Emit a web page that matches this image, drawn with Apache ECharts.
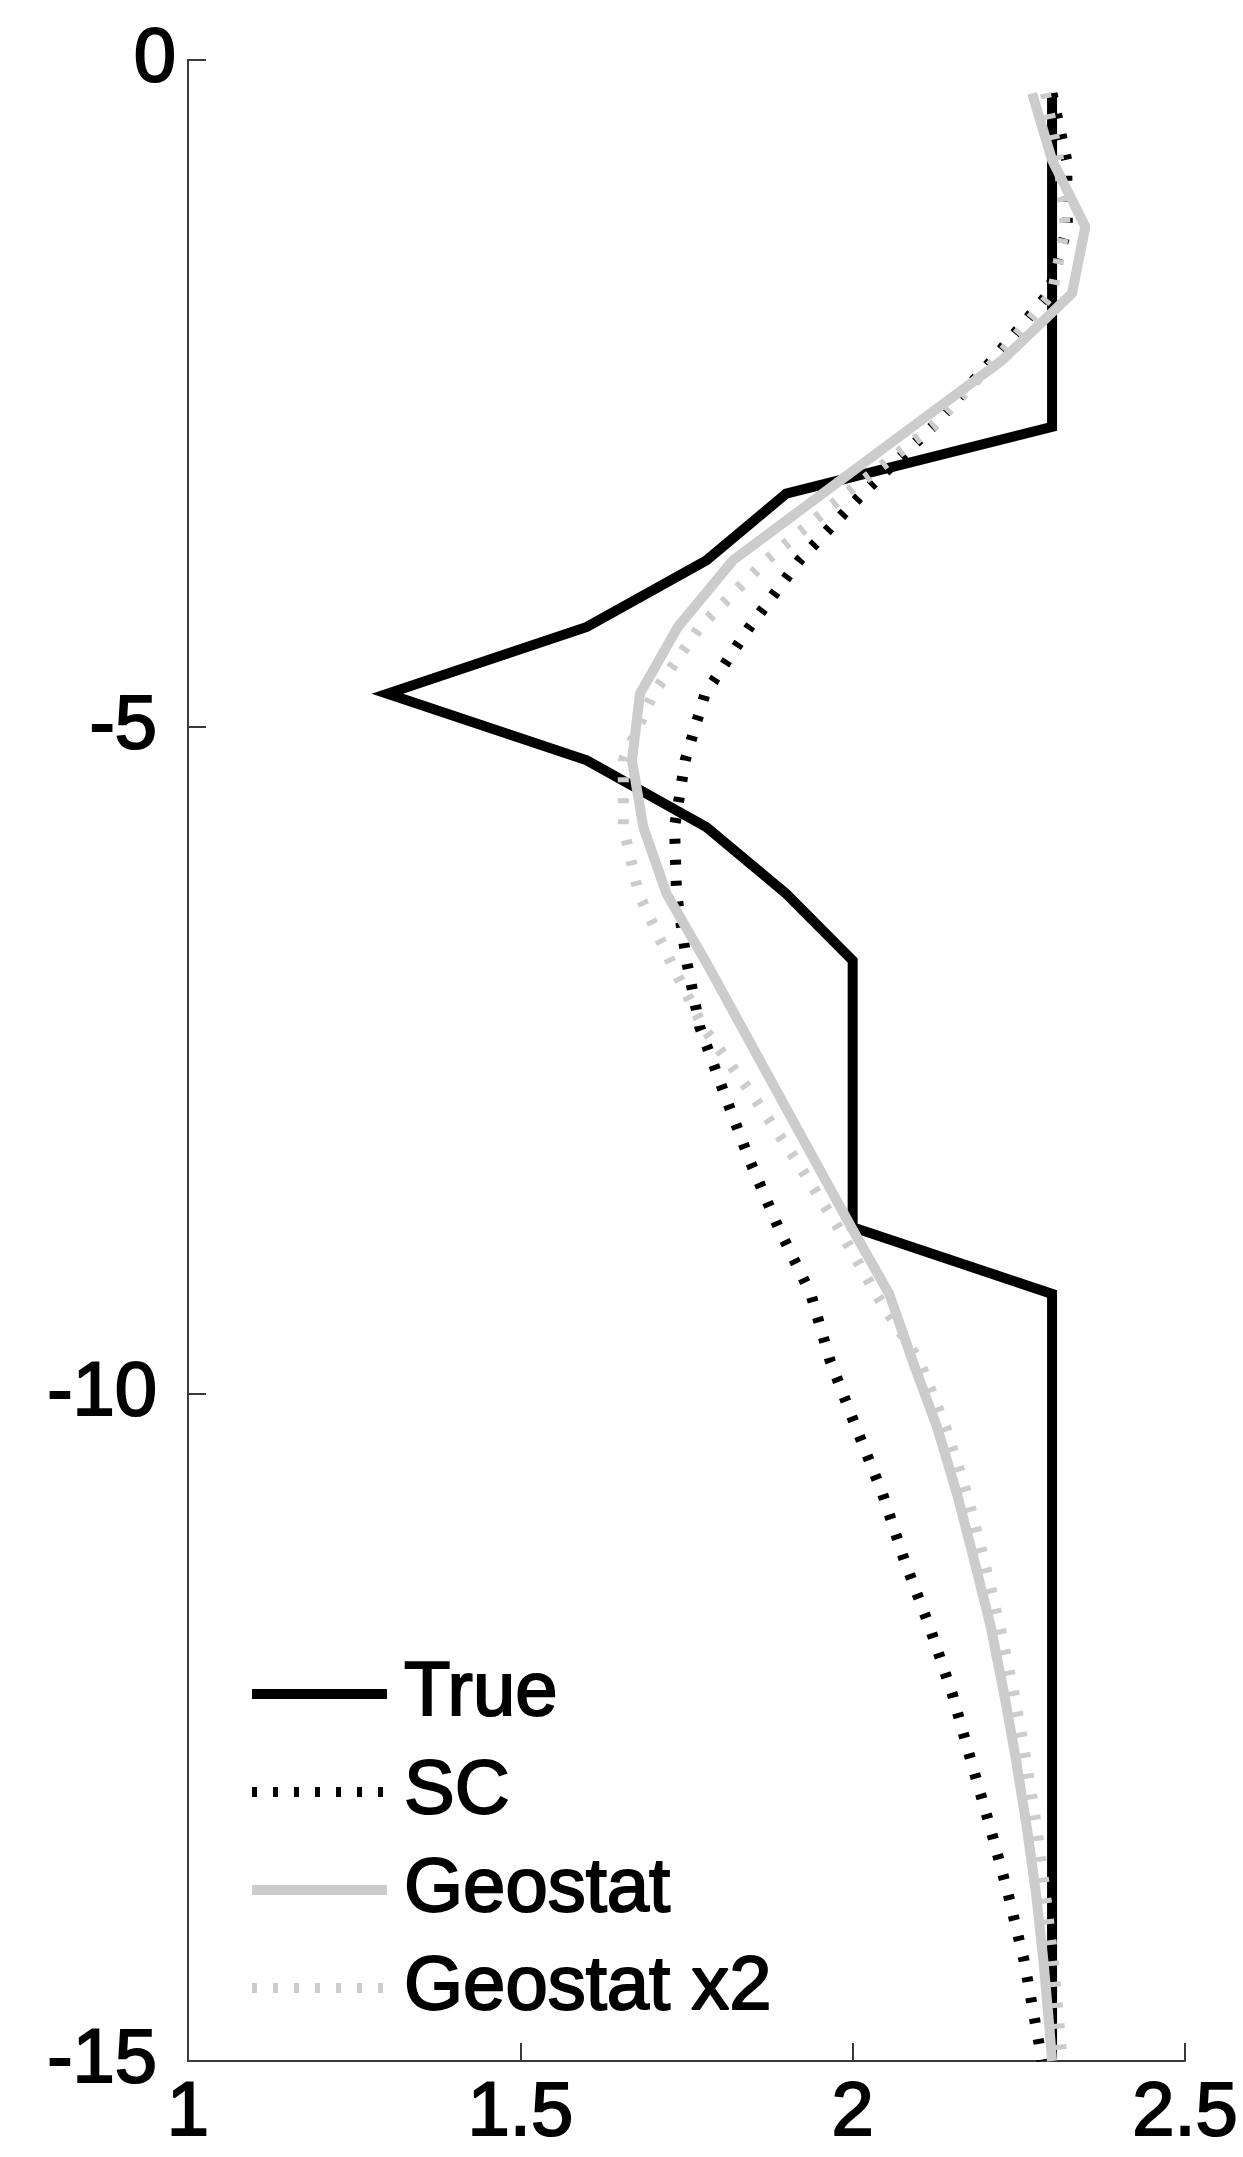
<!DOCTYPE html>
<html>
<head>
<meta charset="utf-8">
<script src="https://cdn.jsdelivr.net/npm/echarts@6/dist/echarts.min.js"></script>
<style>
html,body{margin:0;padding:0;background:#fff;}
#chart{width:1243px;height:2157px;}
</style>
</head>
<body>
<div id="chart"></div>
<script>
// Depth (y) values shared by all series
const depth = [-0.25,-0.75,-1.25,-1.75,-2.25,-2.75,-3.25,-3.75,-4.25,-4.75,-5.25,-5.75,-6.25,-6.75,-7.25,-7.75,-8.25,-8.75,-9.25,-9.75,-10.25,-10.75,-11.25,-11.75,-12.25,-12.75,-13.25,-13.75,-14.25,-14.75,-15];

const trueVals = [2.3,2.3,2.3,2.3,2.3,2.3,1.9,1.78,1.6,1.3,1.6,1.78,1.9,2.0,2.0,2.0,2.0,2.0,2.3,2.3,2.3,2.3,2.3,2.3,2.3,2.3,2.3,2.3,2.3,2.3,2.3];
const scVals = [2.30,2.322,2.323,2.295,2.21,2.12,2.015,1.92,1.845,1.778,1.748,1.732,1.735,1.75,1.77,1.807,1.845,1.888,1.937,1.966,2.005,2.045,2.078,2.116,2.15,2.178,2.207,2.234,2.258,2.276,2.285];
const geoVals = [2.27,2.30,2.35,2.33,2.225,2.09,1.955,1.82,1.737,1.68,1.668,1.685,1.72,1.778,1.833,1.888,1.943,1.998,2.055,2.09,2.127,2.157,2.183,2.208,2.228,2.246,2.262,2.276,2.287,2.296,2.30];
const geo2Vals = [2.29,2.31,2.32,2.30,2.215,2.12,1.99,1.87,1.77,1.70,1.655,1.655,1.678,1.725,1.775,1.848,1.915,1.978,2.035,2.10,2.14,2.172,2.198,2.222,2.243,2.261,2.277,2.29,2.302,2.311,2.315];

const seriesNames = ['True','SC','Geostat','Geostat x2'];
const xTicks = {min:1, max:2.5, interval:0.5};
const yTicks = {min:-15, max:0, interval:5};

function pairs(vals){ return vals.map((v,i)=>[v, depth[i]]); }

const FONT = "'Liberation Sans', Arial, Helvetica, sans-serif";
const FS = 76;
const txt = {fontFamily:FONT, fontSize:FS, color:'#000', textBorderColor:'#000', textBorderWidth:2};
const chart = echarts.init(document.getElementById('chart'), null, {renderer:'canvas'});
chart.setOption({
  backgroundColor:'#ffffff',
  animation:false,
  grid:{left:188, right:58, top:60, bottom:96, containLabel:false},
  xAxis:{
    type:'value', min:xTicks.min, max:xTicks.max, interval:xTicks.interval,
    axisLine:{show:true, onZero:false, lineStyle:{color:'#3a3a3a', width:2}},
    axisTick:{show:true, inside:true, length:18, lineStyle:{color:'#3a3a3a', width:2}},
    axisLabel:Object.assign({margin:15, formatter:v=>String(+v.toFixed(1))}, txt),
    splitLine:{show:false}
  },
  yAxis:{
    type:'value', min:yTicks.min, max:yTicks.max, interval:yTicks.interval,
    axisLine:{show:true, onZero:false, lineStyle:{color:'#3a3a3a', width:2}},
    axisTick:{show:true, inside:true, length:18, lineStyle:{color:'#3a3a3a', width:2}},
    axisLabel:Object.assign({margin:12,
      formatter:v=> v===0 ? '{z|0}' : '{n|'+v+'}',
      rich:{
        n:Object.assign({padding:[0,19,0,0]}, txt),
        z:Object.assign({}, txt)
      }}, txt),
    splitLine:{show:false}
  },
  legend:{
    orient:'vertical', left:242, top:1650,
    itemWidth:135, itemHeight:14, itemGap:20,
    data:seriesNames,
    lineStyle:{width:10},
    itemStyle:{opacity:0, borderWidth:0},
    textStyle:Object.assign({lineHeight:76, padding:[0,0,0,12]}, txt),
    selectedMode:false
  },
  series:[
    {name:seriesNames[0], type:'line', data:pairs(trueVals), symbol:'none', z:2,
     lineStyle:{color:'#000', width:10, join:'miter'}, itemStyle:{color:'#000'}},
    {name:seriesNames[1], type:'line', data:pairs(scVals), symbol:'none', z:3,
     lineStyle:{color:'#000', width:11, type:[5,16], cap:'butt'}, itemStyle:{color:'#000'}},
    {name:seriesNames[2], type:'line', data:pairs(geoVals), symbol:'none', z:4,
     lineStyle:{color:'#cccccc', width:10}, itemStyle:{color:'#cccccc'}},
    {name:seriesNames[3], type:'line', data:pairs(geo2Vals), symbol:'none', z:5,
     lineStyle:{color:'#cccccc', width:11, type:[5,16], cap:'butt'}, itemStyle:{color:'#cccccc'}}
  ]
});
</script>
</body>
</html>
